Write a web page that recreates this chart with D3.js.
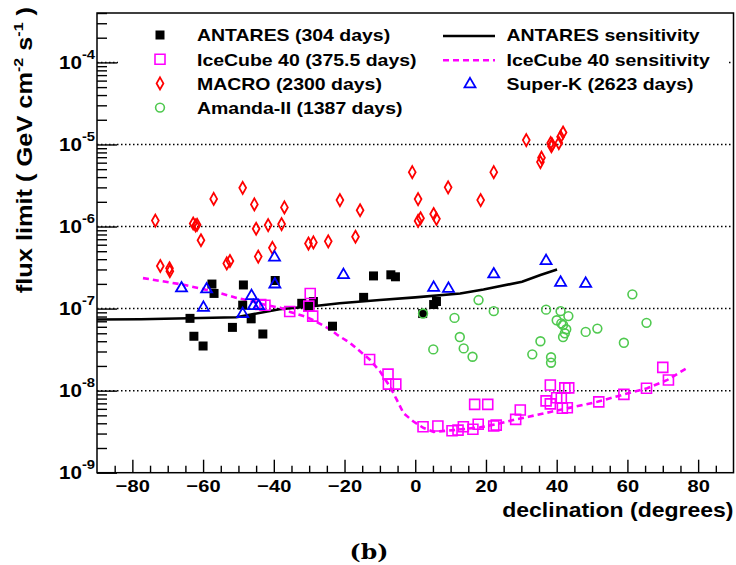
<!DOCTYPE html>
<html>
<head>
<meta charset="utf-8">
<script src="https://cdn.jsdelivr.net/npm/d3@7/dist/d3.min.js"></script>
<style>
	body {margin: 0; background: #fff;}
	svg {display: block; font-family: "Liberation Sans", Arial, sans-serif; font-weight: bold;}
</style>
</head>
<body>
<script>
// values: declination (degrees) / flux limit (GeV cm^-2 s^-1)
const antaresDec  = [-63.7, -62.6, -60.0, -57.5, -56.9, -51.7, -48.6, -48.8, -46.4, -43.1, -39.6, -32.1, -30.2, -28.8, -23.4, -14.6, -11.8, -6.9, -5.6, 2.1, 5.2, 6.0];
const antaresFlux = [7.6e-8, 4.6e-8, 3.5e-8, 1.99e-7, 1.53e-7, 5.9e-8, 1.94e-7, 1.1e-7, 7.5e-8, 4.9e-8, 2.2e-7, 1.16e-7, 1.06e-7, 1.22e-7, 6.1e-8, 1.37e-7, 2.5e-7, 2.58e-7, 2.44e-7, 8.7e-8, 1.12e-7, 1.22e-7];

const icecubeDec  = [-43.7, -42.5, -35.5, -30.1, -29.7, -29.0, -12.9, -7.7, -7.6, -5.5, 2.2, 6.4, 10.4, 12.1, 13.6, 16.3, 16.8, 17.8, 20.5, 22.2, 22.9, 28.4, 29.7, 37.0, 38.2, 38.2, 40.0, 41.3, 41.6, 43.0, 42.3, 43.4, 51.9, 59.0, 65.4, 70.0, 71.6];
const icecubeFlux = [1.12e-7, 1.1e-7, 9.2e-8, 1.07e-7, 1.53e-7, 8.1e-8, 2.4e-8, 1.59e-8, 1.2e-8, 1.2e-8, 3.63e-9, 3.7e-9, 3.25e-9, 3.3e-9, 3.63e-9, 3.38e-9, 6.8e-9, 3.9e-9, 6.8e-9, 3.7e-9, 3.8e-9, 4.47e-9, 5.8e-9, 7.5e-9, 6.9e-9, 1.17e-8, 8.2e-9, 8.1e-9, 6.1e-9, 6.2e-9, 1.08e-8, 1.08e-8, 7.3e-9, 9.0e-9, 1.07e-8, 1.92e-8, 1.35e-8];

const macroDec  = [-73.5, -72.1, -69.5, -69.4, -62.8, -62.1, -61.7, -60.6, -57.0, -53.3, -52.4, -48.8, -45.5, -45.0, -44.4, -41.6, -40.4, -37.8, -37.0, -30.2, -28.8, -24.6, -21.3, -16.9, -15.6, -0.85, 0.8, 0.8, 1.5, 5.2, 6.0, 9.3, 18.5, 22.2, 31.4, 35.4, 35.7, 38.3, 38.5, 38.7, 40.6, 41.1, 41.8];
const macroFlux = [1.18e-6, 3.3e-7, 3.1e-7, 2.86e-7, 1.09e-6, 1.03e-6, 1.05e-6, 6.8e-7, 2.17e-6, 3.55e-7, 3.8e-7, 2.96e-6, 1.86e-6, 9.4e-7, 4.3e-7, 1.04e-6, 5.5e-7, 1.07e-6, 1.71e-6, 6.2e-7, 6.4e-7, 6.6e-7, 2.1e-6, 7.5e-7, 1.58e-6, 4.6e-6, 2.16e-6, 1.17e-6, 1.26e-6, 1.42e-6, 1.24e-6, 3.0e-6, 2.1e-6, 4.6e-6, 1.13e-5, 6.1e-6, 6.9e-6, 1.04e-5, 9.5e-6, 1.0e-5, 1.04e-5, 1.24e-5, 1.4e-5];

const amandaDec  = [2.2, 5.1, 11.1, 12.6, 13.7, 16.2, 17.9, 22.2, 33.1, 35.4, 37.0, 38.4, 38.4, 40.0, 41.1, 41.3, 41.8, 41.8, 42.3, 42.7, 43.3, 48.2, 51.5, 59.0, 61.4, 65.4];
const amandaFlux = [8.7e-8, 3.18e-8, 7.7e-8, 4.5e-8, 3.27e-8, 2.59e-8, 1.27e-7, 9.3e-8, 2.77e-8, 4.0e-8, 9.7e-8, 2.55e-8, 2.19e-8, 7.2e-8, 9.3e-8, 6.6e-8, 6.3e-8, 4.5e-8, 5.0e-8, 5.6e-8, 8.1e-8, 5.2e-8, 5.7e-8, 3.83e-8, 1.49e-7, 6.7e-8];

const superkDec  = [-66.1, -59.9, -59.0, -48.8, -46.3, -45.8, -44.3, -39.8, -39.7, -20.3, 5.2, 9.4, 22.2, 37.0, 41.1, 48.2];
const superkFlux = [1.81e-7, 1.05e-7, 1.76e-7, 8.8e-8, 1.46e-7, 1.1e-7, 1.1e-7, 4.3e-7, 2.02e-7, 2.63e-7, 1.84e-7, 1.79e-7, 2.68e-7, 3.9e-7, 2.12e-7, 2.06e-7];

const antaresSensDec  = [-90, -77.6, -50.6, -38.4, -29.0, -21.4, -10, 0, 12.7, 19.3, 30.2, 35.4, 40.1];
const antaresSensFlux = [7.35e-8, 7.4e-8, 7.83e-8, 9.8e-8, 1.07e-7, 1.16e-7, 1.27e-7, 1.37e-7, 1.53e-7, 1.71e-7, 2.12e-7, 2.57e-7, 3.0e-7];

const icecubeSensDec  = [-77, -66, -56, -50.5, -46.6, -42, -38, -35.4, -30.7, -28.8, -24.1, -22.1, -18.4, -12.9, -9.9, -7.1, -5.2, -3.3, -0.5, 2.4, 5.2, 10.8, 18.4, 24, 28.5, 32, 38.2, 51.5, 59, 65.6, 71.3, 77.4];
const icecubeSensFlux = [2.35e-7, 1.97e-7, 1.58e-7, 1.35e-7, 1.24e-7, 1.1e-7, 1.02e-7, 9.1e-8, 7.9e-8, 7.2e-8, 5.6e-8, 4.8e-8, 3.8e-8, 2.4e-8, 1.7e-8, 1.11e-8, 7.7e-9, 5.3e-9, 4.2e-9, 3.5e-9, 3.15e-9, 3.3e-9, 3.57e-9, 4.0e-9, 4.47e-9, 4.8e-9, 5.5e-9, 7.3e-9, 9.0e-9, 1.07e-8, 1.35e-8, 1.95e-8];

const xTicks = [-80, -60, -40, -20, 0, 20, 40, 60, 80];
const yDecades = [-9, -8, -7, -6, -5, -4];

const svgSize = {width: 736, height: 565};
const frame = {left: 97, right: 733.5, top: 13, bottom: 472.7};
const stretch = 1.18;   // the original lettering is wide

const x = d3.scaleLinear().domain([-90, 90]).range([frame.left, frame.right]);
const y = d3.scaleLog().domain([1e-9, 4e-4]).range([frame.bottom, frame.top]);

const svg = d3.select('body').append('svg')
	.attr('width', svgSize.width)
	.attr('height', svgSize.height);

function wideText(sel, px, py, rot) {
	return sel.attr('transform', `translate(${px},${py})` + (rot ? ` rotate(${rot})` : '') + ` scale(${stretch},1)`);
}

// dotted grid at each decade
svg.append('g')
	.selectAll('line')
	.data(yDecades.slice(1))
	.enter()
	.append('line')
	.attr('x1', frame.left)
	.attr('x2', frame.right)
	.attr('y1', (d) => y(Math.pow(10, d)))
	.attr('y2', (d) => y(Math.pow(10, d)))
	.attr('stroke', '#000')
	.attr('stroke-width', 1.5)
	.attr('stroke-dasharray', '1.5,2.5');

// sensitivity curves
const line = d3.line().x((d) => x(d[0])).y((d) => y(d[1]));

svg.append('path')
	.datum(d3.zip(antaresSensDec, antaresSensFlux))
	.attr('d', line)
	.attr('fill', 'none')
	.attr('stroke', '#000')
	.attr('stroke-width', 2.6);

svg.append('path')
	.datum(d3.zip(icecubeSensDec, icecubeSensFlux))
	.attr('d', line)
	.attr('fill', 'none')
	.attr('stroke', '#ff00ff')
	.attr('stroke-width', 2.6)
	.attr('stroke-dasharray', '6,4');

// marker shapes
const shapes = {
	square: 'M-4.5,-4.5H4.5V4.5H-4.5Z',
	openSquare: 'M-5,-5H5V5H-5Z',
	diamond: 'M0,-6L3.4,0L0,6L-3.4,0Z',
	triangle: 'M0,-5.5L5.5,4L-5.5,4Z'
};

function drawPoints(dec, flux, draw) {
	const sel = svg.append('g')
		.selectAll('.pt')
		.data(d3.zip(dec, flux))
		.enter();
	draw(sel);
}

drawPoints(macroDec, macroFlux, (sel) => sel.append('path')
	.attr('d', shapes.diamond)
	.attr('transform', (d) => `translate(${x(d[0])},${y(d[1])})`)
	.attr('fill', 'none')
	.attr('stroke', '#ff0000')
	.attr('stroke-width', 1.8));

drawPoints(antaresDec, antaresFlux, (sel) => sel.append('path')
	.attr('d', shapes.square)
	.attr('transform', (d) => `translate(${x(d[0])},${y(d[1])})`)
	.attr('fill', '#000'));

drawPoints(amandaDec, amandaFlux, (sel) => sel.append('circle')
	.attr('cx', (d) => x(d[0]))
	.attr('cy', (d) => y(d[1]))
	.attr('r', 4.4)
	.attr('fill', 'none')
	.attr('stroke', '#4fc94f')
	.attr('stroke-width', 1.6));

drawPoints(icecubeDec, icecubeFlux, (sel) => sel.append('path')
	.attr('d', shapes.openSquare)
	.attr('transform', (d) => `translate(${x(d[0])},${y(d[1])})`)
	.attr('fill', 'none')
	.attr('stroke', '#ff00ff')
	.attr('stroke-width', 1.6));

drawPoints(superkDec, superkFlux, (sel) => sel.append('path')
	.attr('d', shapes.triangle)
	.attr('transform', (d) => `translate(${x(d[0])},${y(d[1])})`)
	.attr('fill', 'none')
	.attr('stroke', '#0000ff')
	.attr('stroke-width', 1.8));

// legend (white box hides the top grid line)
svg.append('rect')
	.attr('x', 118).attr('y', 20)
	.attr('width', 609).attr('height', 100)
	.attr('fill', '#fff');

const legendLeft = [
	{label: 'ANTARES (304 days)', shape: 'square'},
	{label: 'IceCube 40 (375.5 days)', shape: 'openSquare'},
	{label: 'MACRO (2300 days)', shape: 'diamond'},
	{label: 'Amanda-II (1387 days)', shape: 'circle'}
];
const legendRight = [
	{label: 'ANTARES sensitivity', shape: 'solid'},
	{label: 'IceCube 40 sensitivity', shape: 'dashed'},
	{label: 'Super-K (2623 days)', shape: 'triangle'}
];
const rowY = (i) => 35 + i * 24.2;

legendLeft.forEach((item, i) => {
	const cy = rowY(i);
	if (item.shape === 'circle') {
		svg.append('circle').attr('cx', 160).attr('cy', cy).attr('r', 4.4)
			.attr('fill', 'none').attr('stroke', '#4fc94f').attr('stroke-width', 1.6);
	} else {
		const p = svg.append('path').attr('d', shapes[item.shape]).attr('transform', `translate(160,${cy})`);
		if (item.shape === 'square') p.attr('fill', '#000');
		else if (item.shape === 'openSquare') p.attr('fill', 'none').attr('stroke', '#ff00ff').attr('stroke-width', 1.6);
		else p.attr('fill', 'none').attr('stroke', '#ff0000').attr('stroke-width', 1.8);
	}
	wideText(svg.append('text'), 197, cy + 6.3)
		.attr('font-size', 16.5)
		.text(item.label);
});

legendRight.forEach((item, i) => {
	const cy = rowY(i);
	if (item.shape === 'triangle') {
		svg.append('path').attr('d', shapes.triangle).attr('transform', `translate(470,${cy})`)
			.attr('fill', 'none').attr('stroke', '#0000ff').attr('stroke-width', 1.8);
	} else {
		svg.append('line').attr('x1', 443).attr('x2', 495).attr('y1', cy + 1).attr('y2', cy + 1)
			.attr('stroke', item.shape === 'solid' ? '#000' : '#ff00ff')
			.attr('stroke-width', 2.6)
			.attr('stroke-dasharray', item.shape === 'solid' ? null : '6,4');
	}
	wideText(svg.append('text'), 506.5, cy + 6.3)
		.attr('font-size', 16.5)
		.text(item.label);
});

// axes: ticks point into the frame
const xMinor = d3.range(-85, 90, 5).filter((v) => xTicks.indexOf(v) < 0);

svg.append('g')
	.attr('transform', `translate(0,${frame.bottom})`)
	.call(d3.axisBottom(x).tickValues(xMinor).tickSize(-7).tickSizeOuter(0).tickFormat(''))
	.call((g) => g.select('.domain').remove());

const xAxis = svg.append('g')
	.attr('transform', `translate(0,${frame.bottom})`)
	.call(d3.axisBottom(x).tickValues(xTicks).tickSize(-13).tickSizeOuter(0).tickFormat(d3.format('d')))
	.call((g) => g.select('.domain').remove());

xAxis.selectAll('text')
	.attr('y', null).attr('dy', null)
	.attr('font-size', 17)
	.attr('font-family', '"Liberation Sans", Arial, sans-serif')
	.attr('font-weight', 'bold')
	.attr('fill', '#000')
	.attr('transform', `translate(0,19.5) scale(${stretch},1)`);

const yMinor = [];
yDecades.forEach((e) => {
	for (let k = 2; k <= 9; k++) {
		const v = k * Math.pow(10, e);
		if (v <= y.domain()[1]) yMinor.push(v);
	}
});

svg.append('g')
	.attr('transform', `translate(${frame.left},0)`)
	.call(d3.axisLeft(y).tickValues(yMinor).tickSize(-10).tickSizeOuter(0).tickFormat(''))
	.call((g) => g.select('.domain').remove());

svg.append('g')
	.attr('transform', `translate(${frame.left},0)`)
	.call(d3.axisLeft(y).tickValues(yDecades.map((e) => Math.pow(10, e))).tickSize(-20).tickSizeOuter(0).tickFormat(''))
	.call((g) => g.select('.domain').remove());

svg.selectAll('.tick line').attr('stroke', '#000').attr('stroke-width', 1.4);

// y tick labels as 10^n
yDecades.forEach((e) => {
	const t = wideText(svg.append('text'), 95, y(Math.pow(10, e)) + 6.5)
		.attr('text-anchor', 'end')
		.attr('font-size', 17.5);
	t.append('tspan').text('10');
	t.append('tspan').attr('dy', -10).attr('font-size', 12.5).text(e);
});

// frame
svg.append('rect')
	.attr('x', frame.left)
	.attr('y', frame.top)
	.attr('width', frame.right - frame.left)
	.attr('height', frame.bottom - frame.top)
	.attr('fill', 'none')
	.attr('stroke', '#000')
	.attr('stroke-width', 1.5);

// axis titles
wideText(svg.append('text'), frame.right, 516.5)
	.attr('text-anchor', 'end')
	.attr('font-size', 19.5)
	.text('declination (degrees)');

const yTitle = wideText(svg.append('text'), 32, 7, -90)
	.attr('text-anchor', 'end')
	.attr('font-size', 21.5);
yTitle.append('tspan').text('flux limit ( GeV cm');
yTitle.append('tspan').attr('dy', -9).attr('font-size', 13.5).text('-2');
yTitle.append('tspan').attr('dy', 9).text(' s');
yTitle.append('tspan').attr('dy', -9).attr('font-size', 13.5).text('-1');
yTitle.append('tspan').attr('dy', 9).text(' )');

wideText(svg.append('text'), 369, 559)
	.attr('text-anchor', 'middle')
	.attr('font-family', '"DejaVu Serif", serif')
	.attr('font-size', 20)
	.text('(b)');
</script>
</body>
</html>
